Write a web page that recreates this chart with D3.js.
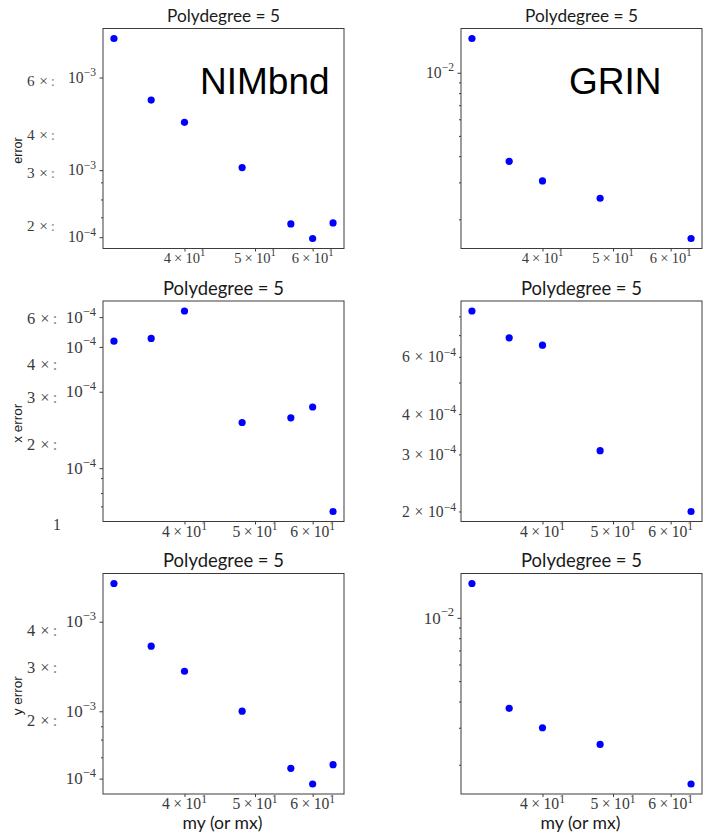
<!DOCTYPE html>
<html><head><meta charset="utf-8">
<script src="https://cdn.jsdelivr.net/npm/d3@7/dist/d3.min.js"></script>
<style>body{margin:0;background:#fff}</style>
</head><body><svg id="c" width="705" height="833"></svg>
<script>
// ---------------- data ----------------
const mNIM  = [32, 36, 40, 48, 56, 60, 64];
const mGRIN = [32, 36, 40, 48, 64];

const nimErr  = [8.31e-3, 5.21e-3, 4.40e-3, 3.12e-3, 2.035e-3, 1.822e-3, 2.05e-3];
const nimXErr = [4.93e-4, 5.05e-4, 6.41e-4, 2.43e-4, 2.53e-4, 2.78e-4, 1.12e-4];
const nimYErr = [5.73e-3, 3.55e-3, 2.93e-3, 2.16e-3, 1.395e-3, 1.238e-3, 1.435e-3];

const grinErr  = [1.457e-2, 3.78e-3, 3.05e-3, 2.52e-3, 1.62e-3];
const grinXErr = [8.31e-4, 6.87e-4, 6.52e-4, 3.08e-4, 2.0e-4];
const grinYErr = [1.457e-2, 3.71e-3, 3.00e-3, 2.50e-3, 1.62e-3];

const xTickValues = [40, 50, 60];

// tick labels / marks (as seen in the picture)
const nimErrPrefix   = [6e-3, 4e-3, 3e-3, 2e-3];
const nimErrMajor    = [6.18e-3, 3.06e-3, 1.84e-3];
const nimErrMajorExp = ["−3", "−3", "−4"];
const nimErrMinor    = [2.79e-3, 2.45e-3, 2.14e-3];

const nimXErrPrefix   = [6e-4, 4e-4, 3e-4, 2e-4];
const nimXErrMajor    = [6.08e-4, 4.69e-4, 3.175e-4, 1.633e-4];
const nimXErrMajorExp = ["−4", "−4", "−4", "−4"];
const nimXErrMinor    = [1.498e-4, 1.315e-4, 1.171e-4];
const nimXErrStray    = [1e-4];

const nimYErrPrefix   = [4e-3, 3e-3, 2e-3];
const nimYErrMajor    = [4.28e-3, 2.158e-3, 1.29e-3];
const nimYErrMajorExp = ["−3", "−3", "−4"];
const nimYErrMinor    = [1.924e-3, 1.738e-3, 1.518e-3];

const grinMajor    = [1e-2];
const grinMajorExp = ["−2"];
const grinMinor    = [9e-3, 8e-3, 7e-3, 6e-3, 5e-3, 4e-3, 3e-3, 2e-3];

const grinXErrFull  = [6e-4, 4e-4, 3e-4, 2e-4];
const grinXErrMinor = [8e-4, 7e-4, 6e-4, 5e-4, 4e-4, 3e-4, 2e-4];

const titleText = "Polydegree = 5";
const xLabelText = "my (or mx)";

// ---------------- layout ----------------
const svg = d3.select("#c");
svg.append("rect").attr("width", 705).attr("height", 833).attr("fill", "#fff");

const colX = [[103, 344], [461, 702]];
const rowY = [[28.5, 248.5], [301, 521.5], [573.5, 794]];
const rowS = [1, 1.08, 1.08];
const SERIF = "'Liberation Serif','DejaVu Serif',serif";
const SANS = "Lato,'Open Sans',sans-serif";
const ARIAL = "'Liberation Sans',Arial,sans-serif";

function logPad(vals) {
  const l = d3.extent(vals, v => Math.log10(v));
  const p = (l[1] - l[0]) * 0.05;
  return [10 ** (l[0] - p), 10 ** (l[1] + p)];
}
function expOf(v) { const e = Math.floor(Math.log10(v) + 1e-9); return (e < 0 ? "−" : "") + Math.abs(e); }
function mantOf(v) { return String(Math.round(v / 10 ** Math.floor(Math.log10(v) + 1e-9))); }

function sci(g, x, y, anchor, fs, mant, exp, gap) {
  const t = g.append("text").attr("x", x).attr("y", y).attr("text-anchor", anchor)
    .attr("font-family", SERIF).attr("font-size", fs).attr("fill", "#3a3a3a");
  if (mant != null) {
    t.append("tspan").text(mant);
    t.append("tspan").attr("dx", fs * gap).text("×");
    t.append("tspan").attr("dx", fs * gap).text("10");
  } else t.append("tspan").text("10");
  t.append("tspan").attr("dy", -fs * 0.42).attr("font-size", fs * 0.74).text(exp);
  return t;
}
function fitText(t, w) {
  const fs = +t.attr("font-size");
  const len = t.node().getComputedTextLength();
  t.attr("font-size", fs * w / len);
}

const xDomain = logPad(mNIM);

const panels = [
  {r: 0, c: 0, xs: mNIM, ys: nimErr, ylab: "error", tag: "NIMbnd",
   prefix: nimErrPrefix, major: nimErrMajor, majorExp: nimErrMajorExp, minor: nimErrMinor},
  {r: 0, c: 1, xs: mGRIN, ys: grinErr, tag: "GRIN",
   major: grinMajor, majorExp: grinMajorExp, minor: grinMinor},
  {r: 1, c: 0, xs: mNIM, ys: nimXErr, ylab: "x error",
   prefix: nimXErrPrefix, major: nimXErrMajor, majorExp: nimXErrMajorExp, minor: nimXErrMinor, stray: nimXErrStray},
  {r: 1, c: 1, xs: mGRIN, ys: grinXErr, full: grinXErrFull, minor: grinXErrMinor},
  {r: 2, c: 0, xs: mNIM, ys: nimYErr, ylab: "y error", xlab: true,
   prefix: nimYErrPrefix, major: nimYErrMajor, majorExp: nimYErrMajorExp, minor: nimYErrMinor},
  {r: 2, c: 1, xs: mGRIN, ys: grinYErr, xlab: true,
   major: grinMajor, majorExp: grinMajorExp, minor: grinMinor}
];

panels.forEach(p => {
  const [x0, x1] = colX[p.c], [y0, y1] = rowY[p.r], s = rowS[p.r];
  const fs = 14.5 * s;
  const x = d3.scaleLog().domain(xDomain).range([x0, x1]);
  const y = d3.scaleLog().domain(logPad(p.ys)).range([y1, y0]);
  const g = svg.append("g");

  // title
  const tt = g.append("text").attr("x", (x0 + x1) / 2).attr("y", y0 - 6.5)
    .attr("text-anchor", "middle").attr("font-family", SANS).attr("font-size", 16)
    .attr("fill", "#1a1a1a").text(titleText);
  fitText(tt, p.r === 0 ? 113 : 121);

  // frame
  g.append("rect").attr("x", x0).attr("y", y0).attr("width", x1 - x0).attr("height", y1 - y0)
    .attr("fill", "none").attr("stroke", "#3c3c3c").attr("stroke-width", 1);

  // x axis ticks
  const xa = g.append("g").attr("transform", `translate(0,${y1})`)
    .call(d3.axisBottom(x).tickValues(xTickValues).tickSize(3).tickFormat(""));
  xa.select(".domain").remove();
  xa.selectAll("line").attr("stroke", "#3c3c3c");
  xTickValues.forEach(v => sci(g, x(v), y1 + 14 * s, "middle", fs, mantOf(v), expOf(v), 0.22));

  // y ticks
  if (p.major) {
    const ya = g.append("g").attr("transform", `translate(${x0},0)`)
      .call(d3.axisLeft(y).tickValues(p.major).tickSize(3.5).tickFormat(""));
    ya.select(".domain").remove(); ya.selectAll("line").attr("stroke", "#3c3c3c");
    p.major.forEach((v, i) => sci(g, x0 - 7, y(v) + fs * 0.36, "end", fs * 1.08, null, p.majorExp[i], 0.3));
  }
  if (p.minor) {
    const ym = g.append("g").attr("transform", `translate(${x0},0)`)
      .call(d3.axisLeft(y).tickValues(p.minor).tickSize(2).tickFormat(""));
    ym.select(".domain").remove(); ym.selectAll("line").attr("stroke", "#3c3c3c");
  }
  if (p.prefix) {
    p.prefix.forEach(v => {
      const t = g.append("text").attr("x", x0 - 76).attr("y", y(v) + fs * 0.33)
        .attr("font-family", SERIF).attr("font-size", fs * 1.05).attr("fill", "#3a3a3a");
      t.append("tspan").text(mantOf(v));
      t.append("tspan").attr("dx", fs * 0.32).text("×");
      t.append("tspan").attr("dx", fs * 0.2).attr("fill", "#8a8a8a").text(":");
    });
  }
  if (p.stray) {
    p.stray.forEach(v => g.append("text").attr("x", x0 - 50).attr("y", y(v) + fs * 0.33)
      .attr("font-family", SERIF).attr("font-size", fs).attr("fill", "#3a3a3a").text(mantOf(v)));
  }
  if (p.full) {
    p.full.forEach(v => sci(g, x0 - 5, y(v) + fs * 0.36, "end", fs, mantOf(v), expOf(v), 0.3));
  }

  // points
  g.selectAll("circle").data(p.xs.map((m, i) => [m, p.ys[i]])).join("circle")
    .attr("cx", d => x(d[0])).attr("cy", d => y(d[1])).attr("r", 3.6).attr("fill", "#0000ff");

  // y label
  if (p.ylab) {
    const cy = (y0 + y1) / 2 + 12;
    g.append("text").attr("transform", `translate(${17 + 4.5 * s},${cy}) rotate(-90)`)
      .attr("text-anchor", "middle").attr("font-family", ARIAL).attr("font-size", 12.5 * s)
      .attr("fill", "#1a1a1a").text(p.ylab);
  }
  if (p.xlab) {
    const xl = g.append("text").attr("x", (x0 + x1) / 2 - 1).attr("y", 829)
      .attr("text-anchor", "middle").attr("font-family", SANS).attr("font-size", 16)
      .attr("fill", "#1a1a1a").text(xLabelText);
    fitText(xl, 80);
  }
  if (p.tag) {
    g.append("text").attr("x", x0 + (p.c === 0 ? 97 : 108)).attr("y", y0 + 65)
      .attr("font-family", ARIAL).attr("font-size", 37).attr("fill", "#000").text(p.tag);
  }
});
</script></body></html>
